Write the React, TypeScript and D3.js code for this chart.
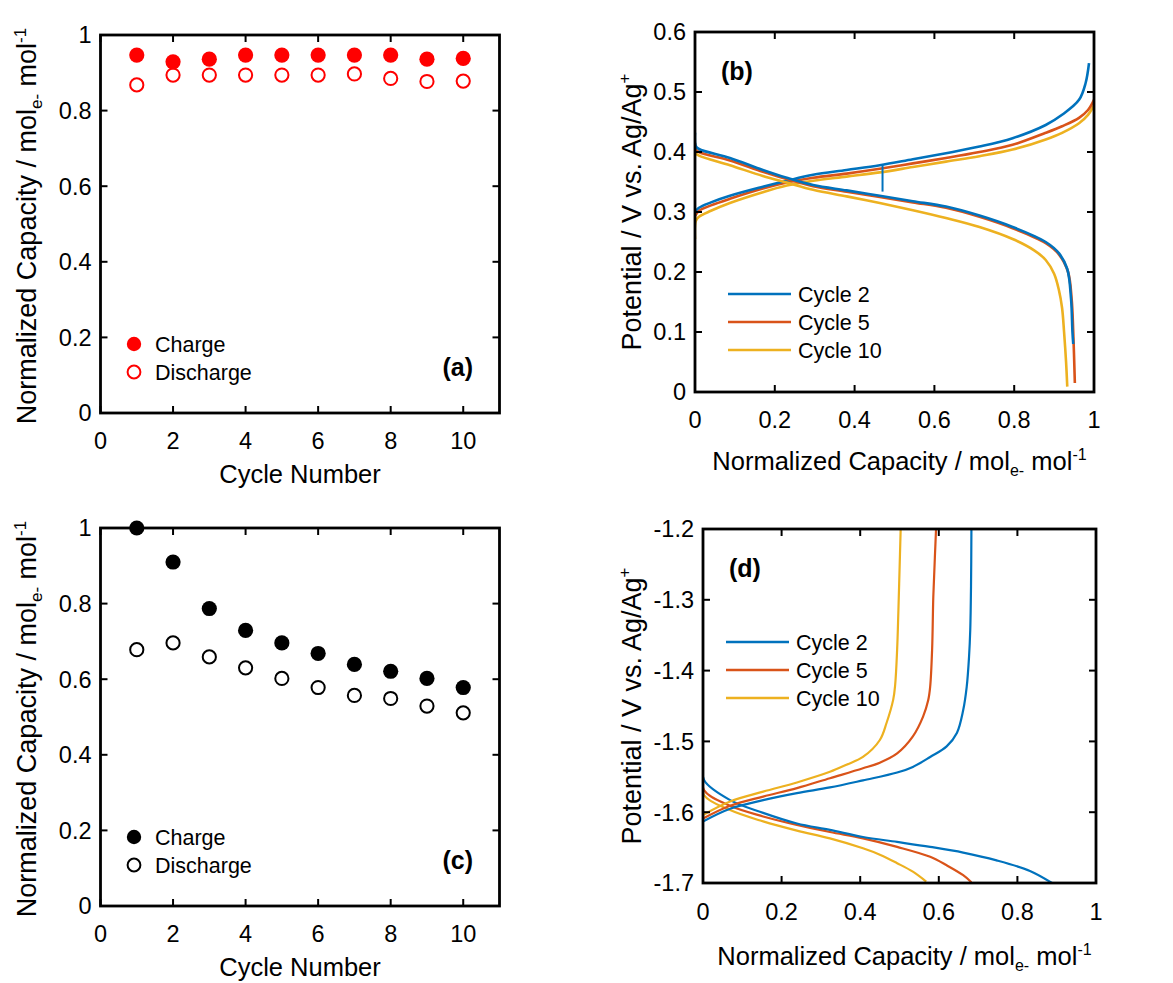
import React from 'react';
import * as d3 from 'd3';

// ---------- data ----------
const cycles = [1, 2, 3, 4, 5, 6, 7, 8, 9, 10];
const chargeA = [0.947, 0.929, 0.936, 0.947, 0.947, 0.947, 0.947, 0.947, 0.936, 0.938];
const dischargeA = [0.868, 0.894, 0.894, 0.894, 0.894, 0.894, 0.897, 0.885, 0.877, 0.878];
const chargeC = [1.0, 0.91, 0.787, 0.729, 0.696, 0.668, 0.639, 0.621, 0.602, 0.578];
const dischargeC = [0.678, 0.696, 0.659, 0.63, 0.602, 0.578, 0.557, 0.549, 0.529, 0.511];

const cycleTicks = [0, 2, 4, 6, 8, 10];
const capTicks = [0, 0.2, 0.4, 0.6, 0.8, 1];
const potTicksB = [0, 0.1, 0.2, 0.3, 0.4, 0.5, 0.6];
const potTicksD = [-1.7, -1.6, -1.5, -1.4, -1.3, -1.2];
const capacityTicks = [0, 0.2, 0.4, 0.6, 0.8, 1];
const legendCycles = ['Cycle 2', 'Cycle 5', 'Cycle 10'];

// panel (b): [capacity, potential]
const bCharge2: [number, number][] = [[0, 0.3], [0.01, 0.307], [0.04, 0.316], [0.0875, 0.327], [0.17, 0.342], [0.23, 0.352], [0.296, 0.362], [0.38, 0.37], [0.463, 0.378], [0.546, 0.388], [0.629, 0.398], [0.713, 0.409], [0.796, 0.423], [0.879, 0.445], [0.92, 0.462], [0.9625, 0.487], [0.979, 0.515], [0.9875, 0.548]];
const bCharge5: [number, number][] = [[0, 0.293], [0.01, 0.302], [0.04, 0.311], [0.0875, 0.322], [0.17, 0.339], [0.23, 0.349], [0.296, 0.357], [0.38, 0.364], [0.463, 0.372], [0.546, 0.381], [0.629, 0.39], [0.713, 0.4], [0.796, 0.412], [0.879, 0.432], [0.92, 0.443], [0.9625, 0.457], [0.985, 0.47], [1.0, 0.487]];
const bCharge10: [number, number][] = [[0, 0.255], [0.002, 0.285], [0.01, 0.292], [0.04, 0.302], [0.0875, 0.315], [0.17, 0.333], [0.23, 0.344], [0.296, 0.352], [0.38, 0.359], [0.463, 0.366], [0.546, 0.375], [0.629, 0.384], [0.713, 0.393], [0.796, 0.404], [0.879, 0.421], [0.92, 0.432], [0.9625, 0.448], [0.985, 0.462], [1.0, 0.478]];
const bDischarge2: [number, number][] = [[0, 0.432], [0.002, 0.41], [0.01, 0.405], [0.0875, 0.39], [0.17, 0.37], [0.23, 0.357], [0.296, 0.345], [0.38, 0.336], [0.463, 0.327], [0.546, 0.318], [0.629, 0.309], [0.713, 0.294], [0.796, 0.275], [0.879, 0.25], [0.9125, 0.231], [0.933, 0.205], [0.9425, 0.155], [0.946, 0.1], [0.948, 0.08]];
const bDischarge5: [number, number][] = [[0, 0.415], [0.002, 0.405], [0.01, 0.4], [0.0875, 0.386], [0.17, 0.367], [0.23, 0.355], [0.296, 0.343], [0.38, 0.334], [0.463, 0.325], [0.546, 0.316], [0.629, 0.307], [0.713, 0.292], [0.796, 0.273], [0.879, 0.248], [0.9125, 0.229], [0.935, 0.2], [0.944, 0.155], [0.948, 0.1], [0.952, 0.015]];
const bDischarge10: [number, number][] = [[0, 0.41], [0.002, 0.398], [0.01, 0.394], [0.0875, 0.378], [0.17, 0.36], [0.23, 0.349], [0.296, 0.337], [0.38, 0.326], [0.463, 0.315], [0.546, 0.303], [0.629, 0.29], [0.713, 0.275], [0.796, 0.255], [0.85, 0.236], [0.879, 0.22], [0.9, 0.197], [0.912, 0.17], [0.92, 0.14], [0.925, 0.1], [0.93, 0.05], [0.933, 0.009]];
const bGlitch2: [number, number][] = [[0.47, 0.378], [0.47, 0.334]];

// panel (d)
const dDischarge2: [number, number][] = [[0, -1.613], [0.069, -1.595], [0.153, -1.583], [0.239, -1.573], [0.323, -1.565], [0.407, -1.555], [0.494, -1.544], [0.534, -1.536], [0.578, -1.522], [0.62, -1.507], [0.646, -1.488], [0.662, -1.456], [0.671, -1.423], [0.677, -1.38], [0.68, -1.343], [0.682, -1.28], [0.683, -1.2]];
const dDischarge5: [number, number][] = [[0, -1.609], [0.069, -1.591], [0.153, -1.578], [0.239, -1.566], [0.323, -1.552], [0.407, -1.538], [0.45, -1.53], [0.494, -1.517], [0.534, -1.493], [0.56, -1.465], [0.573, -1.442], [0.578, -1.423], [0.583, -1.37], [0.586, -1.296], [0.59, -1.24], [0.593, -1.2]];
const dDischarge10: [number, number][] = [[0, -1.604], [0.069, -1.585], [0.153, -1.571], [0.239, -1.558], [0.323, -1.543], [0.365, -1.533], [0.407, -1.522], [0.45, -1.498], [0.467, -1.474], [0.484, -1.441], [0.489, -1.42], [0.494, -1.37], [0.497, -1.319], [0.5, -1.26], [0.503, -1.2]];
const dCharge2: [number, number][] = [[0, -1.531], [0.003, -1.555], [0.069, -1.583], [0.153, -1.601], [0.239, -1.616], [0.323, -1.625], [0.407, -1.635], [0.494, -1.642], [0.578, -1.649], [0.662, -1.657], [0.747, -1.668], [0.832, -1.683], [0.888, -1.7]];
const dCharge5: [number, number][] = [[0, -1.54], [0.003, -1.569], [0.069, -1.591], [0.153, -1.606], [0.239, -1.618], [0.323, -1.628], [0.407, -1.637], [0.494, -1.649], [0.578, -1.663], [0.62, -1.675], [0.662, -1.689], [0.683, -1.699]];
const dCharge10: [number, number][] = [[0, -1.547], [0.003, -1.576], [0.069, -1.597], [0.153, -1.613], [0.239, -1.626], [0.323, -1.637], [0.407, -1.651], [0.45, -1.66], [0.494, -1.672], [0.534, -1.684], [0.568, -1.698]];

const COLORS = ['#0072BD', '#D95319', '#EDB120'];
const FONT = 'Arial, "Liberation Sans", Helvetica, sans-serif';
const TICK_FONT = 23.5;
const XTITLE_FONT = 25.5;
const YTITLE_FONT = 27;
const LEG_FONT = 21.5;
const TAG_FONT = 25;

type Scale = d3.ScaleLinear<number, number>;

function Frame(props: {
  x: Scale; y: Scale; xTicks: number[]; yTicks: number[];
  xFmt: (v: number) => string; yFmt: (v: number) => string;
  xLabelOffset: number;
}) {
  const { x, y, xTicks, yTicks, xFmt, yFmt, xLabelOffset } = props;
  const [x0, x1] = x.range();
  const [y1, y0] = y.range();
  const TL = 7;
  return (
    <g>
      {xTicks.map((t, i) => (
        <g key={'xt' + i}>
          <line x1={x(t)} x2={x(t)} y1={y1} y2={y1 - TL} stroke="#000" strokeWidth={2} />
          <line x1={x(t)} x2={x(t)} y1={y0} y2={y0 + TL} stroke="#000" strokeWidth={2} />
          <text x={x(t)} y={y1 + xLabelOffset} textAnchor="middle" fontSize={TICK_FONT} fontFamily={FONT}>{xFmt(t)}</text>
        </g>
      ))}
      {yTicks.map((t, i) => (
        <g key={'yt' + i}>
          <line x1={x0} x2={x0 + TL} y1={y(t)} y2={y(t)} stroke="#000" strokeWidth={2} />
          <line x1={x1} x2={x1 - TL} y1={y(t)} y2={y(t)} stroke="#000" strokeWidth={2} />
          <text x={x0 - 9} y={y(t)} dy="0.36em" textAnchor="end" fontSize={TICK_FONT} fontFamily={FONT}>{yFmt(t)}</text>
        </g>
      ))}
      <rect x={x0} y={y0} width={x1 - x0} height={y1 - y0} fill="none" stroke="#000" strokeWidth={2.8} />
    </g>
  );
}

function CapTitle(props: { x: number; y: number; rotate?: boolean; size: number }) {
  const { x, y, rotate, size } = props;
  const s = Math.round(size * 0.62);
  return (
    <text x={x} y={y} textAnchor="middle" fontSize={size} fontFamily={FONT}
      transform={rotate ? `rotate(-90 ${x} ${y})` : undefined}>
      Normalized Capacity / mol<tspan dy={6} fontSize={s}>e-</tspan><tspan dy={-6}> mol</tspan><tspan dy={-10} fontSize={s}>-1</tspan>
    </text>
  );
}

function PotTitle(props: { x: number; y: number }) {
  const { x, y } = props;
  return (
    <text x={x} y={y} textAnchor="middle" fontSize={YTITLE_FONT} fontFamily={FONT} transform={`rotate(-90 ${x} ${y})`}>
      Potential / V vs. Ag/Ag<tspan dy={-11} fontSize={17}>+</tspan>
    </text>
  );
}

function CyclePanel(props: { y0: number; y1: number; charge: number[]; discharge: number[]; color: string; tag: string }) {
  const { y0, y1, charge, discharge, color, tag } = props;
  const x = d3.scaleLinear().domain([0, 11]).range([100.5, 499.5]);
  const y = d3.scaleLinear().domain([0, 1]).range([y1, y0]);
  const fmt = (v: number) => d3.format('~g')(v);
  const legY = y1 - 69;
  return (
    <g>
      <Frame x={x} y={y} xTicks={cycleTicks} yTicks={capTicks} xFmt={fmt} yFmt={fmt} xLabelOffset={36} />
      {cycles.map((c, i) => (
        <circle key={'d' + i} cx={x(c)} cy={y(discharge[i])} r={6.6} fill="#fff" stroke={color} strokeWidth={2} />
      ))}
      {cycles.map((c, i) => (
        <circle key={'c' + i} cx={x(c)} cy={y(charge[i])} r={7.6} fill={color} />
      ))}
      <circle cx={134} cy={legY} r={7.2} fill={color} />
      <text x={155} y={legY} dy="0.36em" fontSize={LEG_FONT} fontFamily={FONT}>Charge</text>
      <circle cx={134} cy={legY + 28} r={6.4} fill="#fff" stroke={color} strokeWidth={2} />
      <text x={155} y={legY + 28} dy="0.36em" fontSize={LEG_FONT} fontFamily={FONT}>Discharge</text>
      <text x={473} y={y1 - 37} textAnchor="end" fontSize={TAG_FONT} fontWeight="bold" fontFamily={FONT}>{tag}</text>
      <text x={300} y={y1 + 70} textAnchor="middle" fontSize={XTITLE_FONT} fontFamily={FONT}>Cycle Number</text>
      <CapTitle x={36} y={(y0 + y1) / 2 + 2} rotate size={YTITLE_FONT} />
    </g>
  );
}

function CurvePanel(props: {
  x0: number; x1: number; y0: number; y1: number; yDomain: [number, number]; yTicks: number[];
  charge: [number, number][][]; discharge: [number, number][][]; extra?: [number, number][];
  tag: string; legendY: number; legendX: number; xTitleY: number; lineWidth: number; xLabelOffset: number;
}) {
  const { x0, x1, y0, y1, yDomain, yTicks, charge, discharge, extra, tag, legendY, legendX, xTitleY, lineWidth, xLabelOffset } = props;
  const x = d3.scaleLinear().domain([0, 1]).range([x0, x1]);
  const y = d3.scaleLinear().domain(yDomain).range([y1, y0]);
  const line = d3.line<[number, number]>().x(d => x(d[0])).y(d => y(d[1])).curve(d3.curveCatmullRom.alpha(0.5));
  const fmtX = (v: number) => d3.format('~g')(v);
  const fmtY = (v: number) => (v === 0 ? '0' : d3.format('.1f')(v).replace('\u2212', '-'));
  const order = [2, 1, 0];
  return (
    <g>
      <clipPath id={'clip' + tag.replace(/[()]/g, '')}>
        <rect x={x0} y={y0} width={x1 - x0} height={y1 - y0} />
      </clipPath>
      <g clipPath={`url(#clip${tag.replace(/[()]/g, '')})`}>
        {order.map(i => (
          <path key={'c' + i} d={line(charge[i]) || ''} fill="none" stroke={COLORS[i]} strokeWidth={lineWidth} />
        ))}
        {order.map(i => (
          <path key={'d' + i} d={line(discharge[i]) || ''} fill="none" stroke={COLORS[i]} strokeWidth={lineWidth} />
        ))}
        {extra ? <path d={d3.line<[number, number]>().x(d => x(d[0])).y(d => y(d[1]))(extra) || ''} fill="none" stroke={COLORS[0]} strokeWidth={2} /> : null}
      </g>
      <Frame x={x} y={y} xTicks={capacityTicks} yTicks={yTicks} xFmt={fmtX} yFmt={fmtY} xLabelOffset={xLabelOffset} />
      {legendCycles.map((lab, i) => (
        <g key={lab}>
          <line x1={legendX} x2={legendX + 63} y1={legendY + i * 28} y2={legendY + i * 28} stroke={COLORS[i]} strokeWidth={2.5} />
          <text x={legendX + 70} y={legendY + i * 28} dy="0.36em" fontSize={LEG_FONT} fontFamily={FONT}>{lab}</text>
        </g>
      ))}
      <text x={x0 + 26} y={y0 + 48} fontSize={TAG_FONT} fontWeight="bold" fontFamily={FONT}>{tag}</text>
      <CapTitle x={(x0 + x1) / 2 + 5} y={xTitleY} size={XTITLE_FONT} />
      <PotTitle x={641} y={(y0 + y1) / 2} />
    </g>
  );
}

export default function App() {
  return (
    <svg width={1173} height={983} viewBox="0 0 1173 983"
      style={{ position: 'absolute', left: 0, top: 0, background: '#fff', display: 'block' }}>
      <rect x={0} y={0} width={1173} height={983} fill="#fff" />
      <CyclePanel y0={35} y1={413} charge={chargeA} discharge={dischargeA} color="#FF0000" tag="(a)" />
      <CyclePanel y0={528} y1={906} charge={chargeC} discharge={dischargeC} color="#000000" tag="(c)" />
      <CurvePanel x0={695} x1={1094} y0={32} y1={392} yDomain={[0, 0.6]} yTicks={potTicksB}
        charge={[bCharge2, bCharge5, bCharge10]} discharge={[bDischarge2, bDischarge5, bDischarge10]} extra={bGlitch2}
        tag="(b)" legendX={728} legendY={294} xTitleY={470} lineWidth={2.6} xLabelOffset={36} />
      <CurvePanel x0={703} x1={1096} y0={529} y1={883} yDomain={[-1.7, -1.2]} yTicks={potTicksD}
        charge={[dCharge2, dCharge5, dCharge10]} discharge={[dDischarge2, dDischarge5, dDischarge10]}
        tag="(d)" legendX={726} legendY={642} xTitleY={965} lineWidth={2.2} xLabelOffset={37} />
    </svg>
  );
}
